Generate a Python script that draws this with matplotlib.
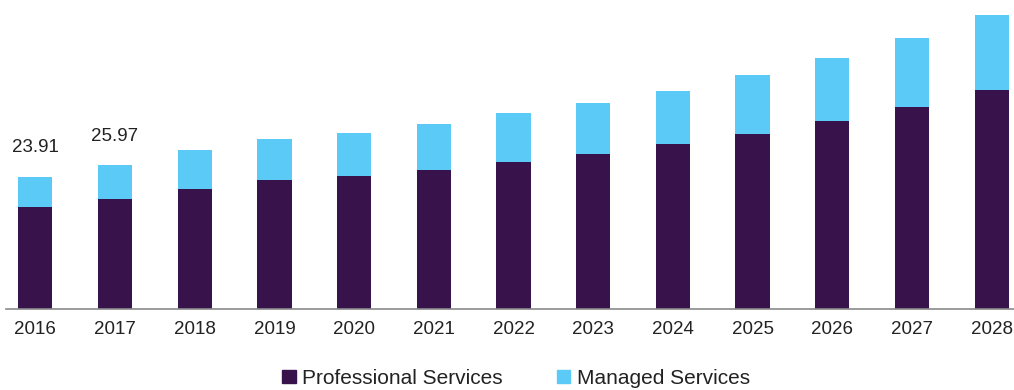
import numpy as np
import matplotlib
matplotlib.use('Agg')
import matplotlib.pyplot as plt
from matplotlib.patches import Patch

# === Data (USD billion) ===
years = ["2016", "2017", "2018", "2019", "2020", "2021", "2022",
         "2023", "2024", "2025", "2026", "2027", "2028"]
professional = [18.50, 19.95, 21.75, 23.33, 24.05, 25.19, 26.64,
                27.97, 29.78, 31.70, 34.05, 36.53, 39.55]
managed = [5.41, 6.02, 6.95, 7.41, 7.83, 8.32, 8.75,
           9.28, 9.70, 10.61, 11.28, 12.42, 13.67]
labelled = {0: "23.91", 1: "25.97"}

# === Style ===
col_pro = "#38124a"
col_man = "#5ccaf6"
plt.rcParams['font.family'] = ['Liberation Sans', 'DejaVu Sans']

fig = plt.figure(figsize=(10.14, 3.9), dpi=100)
ax = fig.add_axes([6 / 1014, 81 / 390, 1008 / 1014, 304 / 390])

x = np.arange(len(years))
width = 0.43
ax.bar(x, professional, width, color=col_pro, label="Professional Services")
ax.bar(x, managed, width, bottom=professional, color=col_man, label="Managed Services")

# value labels above the first two bars
for i, txt in labelled.items():
    ax.annotate(txt, (x[i], professional[i] + managed[i]), xytext=(0, 21),
                textcoords="offset points", ha="center", va="center",
                fontsize=13.5, color="#222222")

ax.set_xlim(-0.368, 12.28)
ax.set_ylim(0, 55)
ax.set_xticks(x)
ax.set_xticklabels(years, fontsize=13.5, color="#222222")
ax.tick_params(axis="x", length=0, pad=9)
ax.set_yticks([])
for s in ["top", "right", "left"]:
    ax.spines[s].set_visible(False)
ax.spines["bottom"].set_color("#8a8a8a")
ax.spines["bottom"].set_linewidth(1.2)

handles = [Patch(color=col_pro, label="Professional Services"),
           Patch(color=col_man, label="Managed Services")]
fig.legend(handles=handles, loc="center", bbox_to_anchor=(516 / 1014, 0.03),
           ncol=2, frameon=False, fontsize=15, handlelength=0.65,
           handleheight=0.65, handletextpad=0.3, columnspacing=2.6,
           labelcolor="#222222")

fig.savefig("out.png", dpi=100)
